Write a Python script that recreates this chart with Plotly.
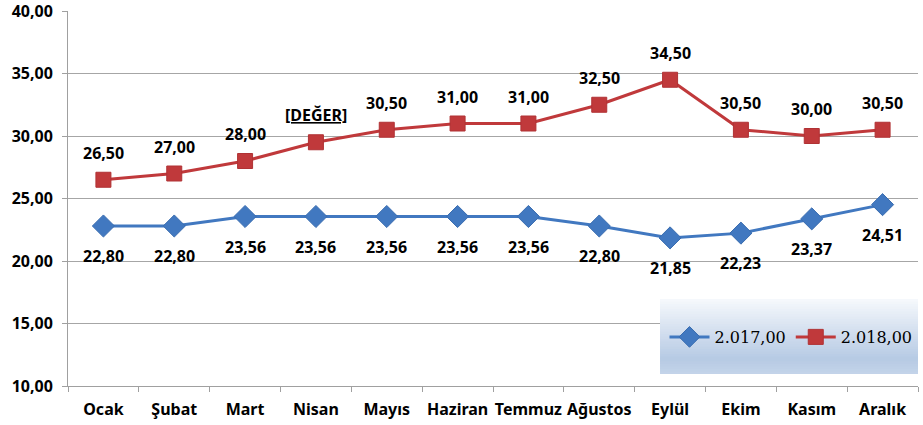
import plotly.graph_objects as go

months = ["Ocak", "Şubat", "Mart", "Nisan", "Mayıs", "Haziran", "Temmuz",
          "Ağustos", "Eylül", "Ekim", "Kasım", "Aralık"]
values_2017 = [22.80, 22.80, 23.56, 23.56, 23.56, 23.56, 23.56, 22.80, 21.85, 22.23, 23.37, 24.51]
values_2018 = [26.50, 27.00, 28.00, 29.50, 30.50, 31.00, 31.00, 32.50, 34.50, 30.50, 30.00, 30.50]
name_2017 = "2.017,00"
name_2018 = "2.018,00"
y_ticks = [10, 15, 20, 25, 30, 35, 40]


def fmt(v):
    return f"{v:.2f}".replace(".", ",")


labels_2017 = [fmt(v) for v in values_2017]
labels_2018 = [fmt(v) for v in values_2018]
labels_2018[3] = "<u>[DEĞER]</u>"

BLUE = "#4178c0"
RED = "#c0393b"
FONT = "Noto Sans"
label_font = dict(family=FONT, size=16, color="#000000", weight="bold")

fig = go.Figure()
fig.add_trace(go.Scatter(
    x=months, y=values_2017, name=name_2017, mode="lines+markers",
    line=dict(color=BLUE, width=3),
    marker=dict(symbol="diamond", size=17, color=BLUE, line=dict(color="#3a6db0", width=1)),
))
fig.add_trace(go.Scatter(
    x=months, y=values_2018, name=name_2018, mode="lines+markers",
    line=dict(color=RED, width=3),
    marker=dict(symbol="square", size=15, color=RED, line=dict(color="#b03234", width=1)),
))

for m, v, t in zip(months, values_2017, labels_2017):
    fig.add_annotation(x=m, y=v, text=t, showarrow=False, yshift=-30, font=label_font)
for m, v, t in zip(months, values_2018, labels_2018):
    fig.add_annotation(x=m, y=v, text=t, showarrow=False, yshift=27, font=label_font)

# legend background gradient (stacked strips), bottom -> top
x0, x1 = 0.6965, 1.0
y0, y1 = 0.032, 0.232
stops = [(0.0, (196, 212, 233)), (0.2, (182, 202, 228)), (0.6, (214, 225, 240)), (1.0, (246, 249, 252))]
n = 30
for i in range(n):
    t = (i + 0.5) / n
    for (a, ca), (b, cb) in zip(stops[:-1], stops[1:]):
        if a <= t <= b:
            f = (t - a) / (b - a)
            c = tuple(int(round(ca[k] + (cb[k] - ca[k]) * f)) for k in range(3))
            break
    fig.add_shape(type="rect", xref="paper", yref="paper",
                  x0=x0, x1=x1, y0=y0 + (y1 - y0) * i / n,
                  y1=min(y1, y0 + (y1 - y0) * (i + 1) / n + 0.003),
                  fillcolor=f"rgb{c}", line=dict(width=0), layer="above")

fig.update_layout(
    width=923, height=425,
    margin=dict(l=68, r=5, t=11, b=39),
    paper_bgcolor="white", plot_bgcolor="white",
    separators=",.",
    showlegend=True,
    legend=dict(orientation="h", x=0.8506, y=0.1307, xanchor="center", yanchor="middle",
                bgcolor="rgba(0,0,0,0)", font=dict(family="DejaVu Serif", size=16, color="#000000"),
                itemwidth=40, tracegroupgap=0),
    xaxis=dict(
        type="category", showgrid=False, showline=True, linecolor="#a0a0a0", linewidth=1,
        ticks="outside", tickson="boundaries", ticklen=5, tickcolor="#a0a0a0",
        tickangle=0, automargin=False, ticklabelstandoff=9,
        tickfont=dict(family=FONT, size=16, color="#000000", weight="bold"),
        range=[-0.5, 11.5],
    ),
    yaxis=dict(
        range=[10, 40], tickvals=y_ticks, tickformat=".2f",
        showgrid=True, gridcolor="#a6a6a6", gridwidth=1,
        showline=True, linecolor="#a0a0a0", linewidth=1,
        ticks="outside", ticklen=5, tickcolor="#a0a0a0", automargin=False,
        ticklabeloverflow="allow", ticklabelstandoff=6,
        tickfont=dict(family=FONT, size=16, color="#000000", weight="bold"),
        zeroline=False,
    ),
)

fig.write_html("out.html", config={"displayModeBar": False},
               post_script="document.body.style.margin='0';")
